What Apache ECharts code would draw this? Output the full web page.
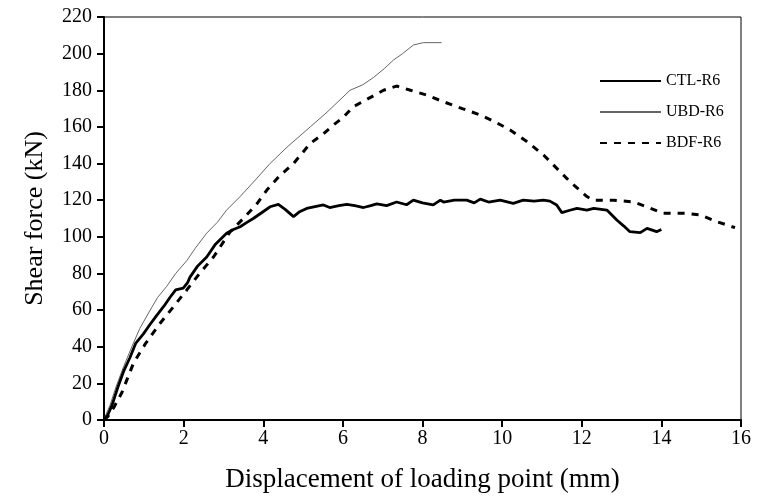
<!DOCTYPE html>
<html><head><meta charset="utf-8">
<script src="https://cdn.jsdelivr.net/npm/echarts@6/dist/echarts.min.js"></script>
<style>html,body{margin:0;padding:0;background:#fff}#c{width:770px;height:500px}</style>
</head><body><div id="c"></div>
<script>
const ctlX = [0,0.1,0.2,0.35,0.5,0.65,0.8,0.99,1.15,1.32,1.5,1.66,1.8,1.99,2.1,2.16,2.35,2.58,2.8,3.08,3.25,3.42,3.6,3.75,3.95,4.17,4.38,4.55,4.76,4.9,5.09,5.3,5.51,5.67,5.9,6.1,6.3,6.52,6.7,6.85,7.1,7.35,7.6,7.77,8.0,8.27,8.45,8.53,8.8,9.11,9.3,9.45,9.66,9.95,10.28,10.53,10.8,11.04,11.2,11.37,11.5,11.7,11.88,12.13,12.3,12.63,12.88,13.05,13.21,13.47,13.64,13.88,14.0];
const ctlY = [0,3,8,18,27,34,42,47,52,57,62,67,71,72,75,78,84,89,96,102,104,105.5,108,110,113,116.4,117.7,115,111,113.5,115.5,116.5,117.4,116,117,117.7,117,116,117,118,117,119,117.5,120,118.5,117.4,120,119,120,120,118.5,120.6,119,120,118.3,120,119.5,120,119.5,117.4,113.2,114.5,115.5,114.6,115.5,114.6,109.2,106,102.8,102.3,104.6,102.8,104];
const ubdX = [0,0.05,0.15,0.3,0.49,0.7,0.9,1.16,1.35,1.57,1.8,2.08,2.29,2.58,2.85,3.08,3.42,3.8,4.17,4.6,5.18,5.6,6.18,6.5,6.77,7.05,7.27,7.5,7.77,8.02,8.48];
const ubdY = [0,3,8,18,29,40,50,60,67,72.8,80,87,93.7,102,108,114.6,122,131,140,149,160,168,180,183,187,192,196.5,200,204.7,206,206];
const bdfX = [0,0.1,0.25,0.45,0.74,1.05,1.41,1.75,2.08,2.4,2.75,3.17,3.5,3.84,4.09,4.4,4.76,5.18,5.5,5.76,6.0,6.26,6.6,7.02,7.35,7.7,8.1,8.53,9.0,9.45,9.8,10.2,10.62,11.04,11.33,11.71,12.13,12.29,12.8,13.3,13.63,14.05,14.64,14.97,15.39,15.85];
const bdfY = [0,2,7,15,31,42,52.8,62,71,80,89,102.8,110,118,125.5,133,140,151,156,161,165,171,175,180,182.3,180,177.4,173.7,170,166.5,163,158.3,152,144.7,138.3,130,122,120,120,119,116.4,112.8,112.8,112,108.3,105];
const seriesNames = ['CTL-R6','UBD-R6','BDF-R6'];
const xTitle = 'Displacement of loading point (mm)';
const yTitle = 'Shear force (kN)';

const zip = (xs, ys) => xs.map((x, i) => [x, ys[i]]);
const font = 'Liberation Serif';
const chart = echarts.init(document.getElementById('c'));
chart.setOption({
  animation: false,
  backgroundColor: '#fff',
  grid: {left: 104, right: 29, top: 17, bottom: 80, show: true, borderColor: '#000', borderWidth: 1},
  legend: {
    orient: 'vertical', left: 594, top: 68, itemWidth: 61, itemHeight: 14, itemGap: 15,
    itemStyle: {opacity: 0},
    textStyle: {fontFamily: font, fontSize: 16, color: '#000'},
    data: seriesNames
  },
  xAxis: {
    type: 'value', min: 0, max: 16, interval: 2,
    name: xTitle, nameLocation: 'middle', nameGap: 46,
    nameTextStyle: {fontFamily: font, fontSize: 27, color: '#000'},
    axisLine: {lineStyle: {color: '#000', width: 2}},
    axisTick: {length: 7, lineStyle: {color: '#000', width: 2}},
    axisLabel: {fontFamily: font, fontSize: 20, color: '#000', margin: 9},
    splitLine: {show: false}
  },
  yAxis: {
    type: 'value', min: 0, max: 220, interval: 20,
    name: yTitle, nameLocation: 'middle', nameGap: 56,
    nameTextStyle: {fontFamily: font, fontSize: 26, color: '#000'},
    axisLine: {lineStyle: {color: '#000', width: 2}},
    axisTick: {length: 7, lineStyle: {color: '#000', width: 2}},
    axisLabel: {fontFamily: font, fontSize: 20, color: '#000', margin: 12},
    splitLine: {show: false}
  },
  series: [
    {name: seriesNames[0], type: 'line', symbol: 'none', data: zip(ctlX, ctlY),
     lineStyle: {color: '#000', width: 2.8}, itemStyle: {color: '#000'}, z: 3},
    {name: seriesNames[1], type: 'line', symbol: 'none', data: zip(ubdX, ubdY),
     lineStyle: {color: '#666', width: 1}, itemStyle: {color: '#666'}, z: 2},
    {name: seriesNames[2], type: 'line', symbol: 'none', data: zip(bdfX, bdfY),
     lineStyle: {color: '#000', width: 3, type: [7, 7]}, itemStyle: {color: '#000'}, z: 2}
  ]
});
</script></body></html>
